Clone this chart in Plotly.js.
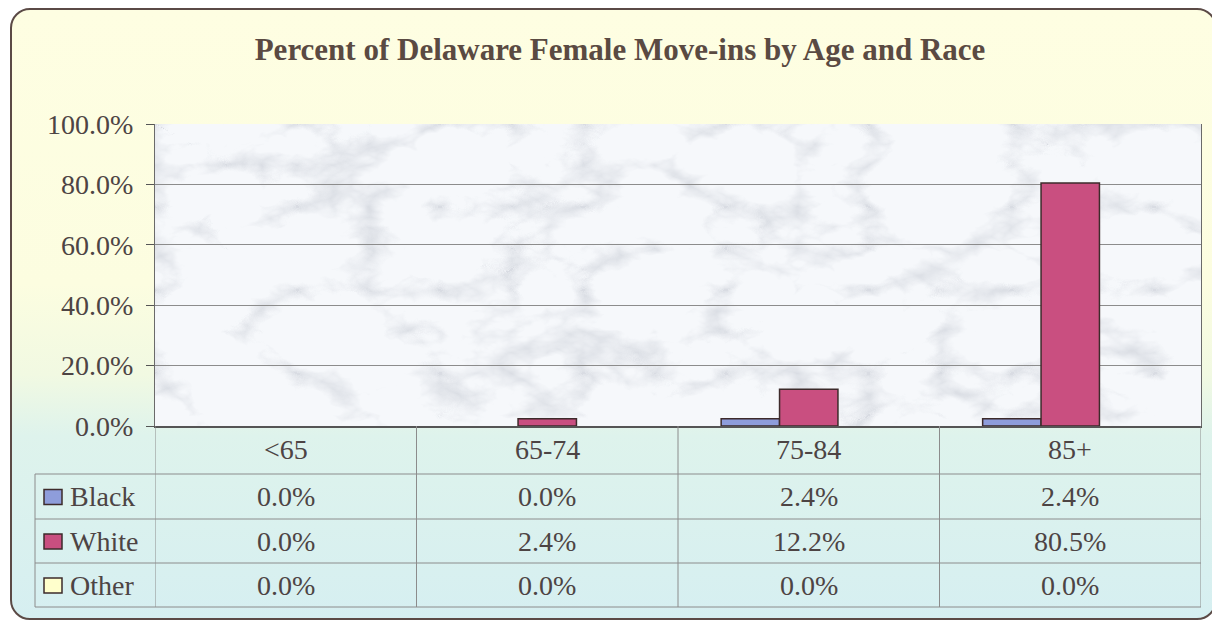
<!DOCTYPE html>
<html>
<head>
<meta charset="utf-8">
<script src="https://cdn.plot.ly/plotly-3.0.1.min.js"></script>
<style>
  html, body { margin: 0; padding: 0; width: 1212px; height: 623px; overflow: hidden; background: #ffffff; }
  #frame {
    position: absolute; left: 10px; top: 8px; width: 1203px; height: 608px;
    border: 2px solid #5b4a46; border-radius: 20px;
    background: linear-gradient(to bottom, #fefee2 0%, #fcfde0 45%, #f1f9e2 60%, #def3ec 70%, #d6eff1 100%);
  }
  #chart { position: absolute; left: 0; top: 0; width: 1212px; height: 623px; }
</style>
</head>
<body>
<div id="frame"></div>
<div id="chart"></div>
<script>
// ---- data ----
const categories = ['<65', '65-74', '75-84', '85+'];
const seriesNames = ['Black', 'White', 'Other'];
const blackValues = [0.0, 0.0, 2.4, 2.4];
const whiteValues = [0.0, 2.4, 12.2, 80.5];
const otherValues = [0.0, 0.0, 0.0, 0.0];
const yTickValues = [0, 20, 40, 60, 80, 100];
const yTickLabels = ['0.0%', '20.0%', '40.0%', '60.0%', '80.0%', '100.0%'];
const chartTitle = 'Percent of Delaware Female Move-ins by Age and Race';

// ---- style ----
const seriesColors = ['#8e9ddb', '#c94f80', '#ffffcc'];
const seriesValues = [blackValues, whiteValues, otherValues];
const FONT = '"Liberation Serif", "Times New Roman", serif';
const TEXT = '#4d4444';
const LINE = '#8c8c8c';
const FS = 28;

const W = 1212, H = 623;
const plotL = 155, plotR = 1201, plotT = 124, plotB = 426;
const px2x = p => (p - plotL) / (plotR - plotL);
const py2y = p => (plotB - p) / (plotB - plotT);

const rowLines = [474, 519, 563, 607];
const tableLeft = 35;

const traces = seriesNames.map((name, s) => ({
  type: 'bar',
  name: name,
  x: categories.map((c, i) => i),
  y: seriesValues[s],
  marker: { color: seriesColors[s],
    line: { color: '#3d2b2b', width: seriesValues[s].map(v => v > 0 ? 1.5 : 0) } },
  hoverinfo: 'skip',
  showlegend: false
}));

const shapes = [];
const annotations = [];

// table vertical lines on category boundaries
for (let i = 0; i <= categories.length; i++) {
  shapes.push({ type: 'line', xref: 'x', yref: 'paper', x0: i - 0.5, x1: i - 0.5,
    y0: py2y(plotB), y1: py2y(rowLines[3]), line: { color: LINE, width: 1 } });
}
// horizontal row lines
rowLines.forEach(p => {
  shapes.push({ type: 'line', xref: 'paper', yref: 'paper', x0: px2x(tableLeft), x1: 1,
    y0: py2y(p), y1: py2y(p), line: { color: LINE, width: 1 } });
});
// left edge of legend column
shapes.push({ type: 'line', xref: 'paper', yref: 'paper', x0: px2x(tableLeft), x1: px2x(tableLeft),
  y0: py2y(rowLines[0]), y1: py2y(rowLines[3]), line: { color: LINE, width: 1 } });

// header: category labels
categories.forEach((c, i) => {
  annotations.push({ xref: 'x', yref: 'paper', x: i, y: py2y((plotB + rowLines[0]) / 2 - 1),
    text: c.replace('<', '&lt;'), showarrow: false, xanchor: 'center', yanchor: 'middle',
    font: { family: FONT, size: FS, color: TEXT } });
});

// rows: legend key + values
seriesNames.forEach((name, s) => {
  const top = rowLines[s], bot = rowLines[s + 1];
  const mid = (top + bot) / 2;
  shapes.push({ type: 'rect', xref: 'paper', yref: 'paper',
    x0: px2x(44), x1: px2x(62), y0: py2y(mid - 7), y1: py2y(mid + 8),
    fillcolor: seriesColors[s], line: { color: '#3d2b2b', width: 1.5 } });
  annotations.push({ xref: 'paper', yref: 'paper', x: px2x(68), y: py2y(mid),
    text: name, showarrow: false, xanchor: 'left', yanchor: 'middle',
    font: { family: FONT, size: FS, color: TEXT } });
  seriesValues[s].forEach((v, i) => {
    annotations.push({ xref: 'x', yref: 'paper', x: i, y: py2y(mid),
      text: v.toFixed(1) + '%', showarrow: false, xanchor: 'center', yanchor: 'middle',
      font: { family: FONT, size: FS, color: TEXT } });
  });
});

// marble-like texture for plot area
const svg = "<svg xmlns='http://www.w3.org/2000/svg' width='1046' height='302'>" +
  "<filter id='f' x='0' y='0' width='100%' height='100%'>" +
  "<feTurbulence type='turbulence' baseFrequency='0.007 0.012' numOctaves='5' seed='7'/>" +
  "<feColorMatrix type='matrix' values='0 0 0 0 0.55  0 0 0 0 0.58  0 0 0 0 0.64  -2.2 0 0 0 0.58'/>" +
  "</filter>" +
  "<rect width='100%' height='100%' fill='#f6f8fb'/>" +
  "<rect width='100%' height='100%' filter='url(#f)'/></svg>";

const layout = {
  width: W, height: H,
  margin: { l: plotL, r: W - plotR, t: plotT, b: H - plotB, pad: 0 },
  paper_bgcolor: 'rgba(0,0,0,0)',
  plot_bgcolor: 'rgba(0,0,0,0)',
  title: { text: '<b>' + chartTitle + '</b>', xref: 'container', yref: 'container',
    x: 620 / W, xanchor: 'center', y: 1 - 49 / H, yanchor: 'middle',
    font: { family: FONT, size: 31, color: '#5a4a42' } },
  barmode: 'group', bargap: 0.33, bargroupgap: 0,
  xaxis: { type: 'linear', range: [-0.5, 3.5], showticklabels: false, showgrid: false,
    zeroline: false, showline: true, linecolor: '#555', linewidth: 1.5, fixedrange: true, ticks: '' },
  yaxis: { range: [0, 100], tickmode: 'array', tickvals: yTickValues, ticktext: yTickLabels,
    showgrid: true, gridcolor: LINE, gridwidth: 1, zeroline: false,
    showline: true, linecolor: '#6a6a6a', linewidth: 1, mirror: true,
    ticks: 'outside', ticklen: 8, tickcolor: '#555', ticklabelstandoff: 7,
    tickfont: { family: FONT, size: FS, color: TEXT }, fixedrange: true },
  images: [{ source: 'data:image/svg+xml;charset=utf-8,' + encodeURIComponent(svg),
    xref: 'paper', yref: 'paper', x: 0, y: 1, sizex: 1, sizey: 1,
    sizing: 'stretch', xanchor: 'left', yanchor: 'top', layer: 'below' }],
  shapes: shapes,
  annotations: annotations,
  showlegend: false
};

Plotly.newPlot('chart', traces, layout, { displayModeBar: false, staticPlot: true });
</script>
</body>
</html>
